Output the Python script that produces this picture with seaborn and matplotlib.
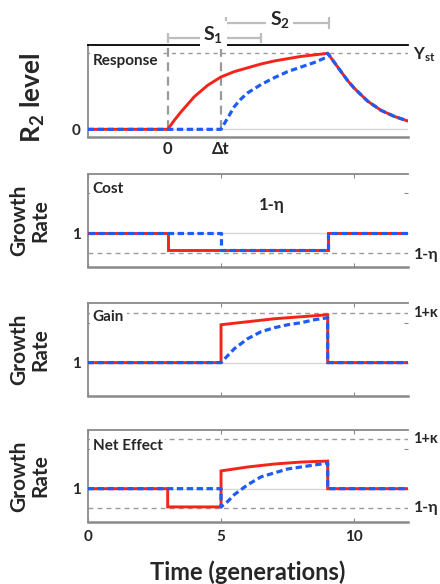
import numpy as np
import pandas as pd
import matplotlib
matplotlib.use("Agg")
import matplotlib.pyplot as plt
import matplotlib.transforms as mtransforms
import seaborn as sns

# ---------------- data ----------------
x_lim = (0, 12)
t_on, t_delay, t_off = 3, 5, 9          # signal on (fast), delayed start (slow), signal off
eta, kappa = 0.2, 0.5                   # cost and gain levels (1-eta, 1+kappa)
y_tick_extra = 1.4

# Response panel (R2 level)
resp_fast_t = [0, 3, 3.25, 3.5, 3.75, 4, 4.5, 5, 5.5, 6, 6.5, 7, 7.5, 8, 8.5, 9,
               9.25, 9.5, 9.75, 10, 10.5, 11, 11.5, 12]
resp_fast_y = [0, 0, 0.12, 0.23, 0.33, 0.43, 0.58, 0.69, 0.76, 0.81, 0.86, 0.90, 0.93, 0.96, 0.98, 1.0,
               0.88, 0.76, 0.64, 0.54, 0.37, 0.25, 0.17, 0.11]
resp_slow_t = [0, 5, 5.25, 5.5, 5.75, 6, 6.5, 7, 7.5, 8, 8.5, 8.9, 9,
               9.25, 9.5, 9.75, 10, 10.5, 11, 11.5, 12]
resp_slow_y = [0, 0, 0.15, 0.30, 0.40, 0.48, 0.59, 0.68, 0.76, 0.82, 0.88, 0.94, 1.0,
               0.88, 0.76, 0.64, 0.54, 0.37, 0.25, 0.17, 0.11]

# Cost panel (growth rate)
cost_fast_t = [0, 3, 3, 9, 9, 12]
cost_fast_y = [1, 1, 0.83, 0.83, 1, 1]
cost_slow_t = [0, 5, 5, 9, 9, 12]
cost_slow_y = [1, 1, 0.83, 0.83, 1, 1]

# Gain panel (growth rate)
gain_fast_t = [0, 5, 5, 5.5, 6, 6.5, 7, 7.5, 8, 8.5, 9, 9, 12]
gain_fast_y = [1, 1, 1.38, 1.395, 1.41, 1.425, 1.44, 1.45, 1.46, 1.47, 1.48, 1, 1]
gain_slow_t = [0, 5, 5.25, 5.5, 5.75, 6, 6.5, 7, 7.5, 8, 8.5, 9, 9, 12]
gain_slow_y = [1, 1, 1.07, 1.14, 1.19, 1.24, 1.31, 1.35, 1.38, 1.40, 1.43, 1.45, 1, 1]

# Net effect panel (growth rate)
net_fast_t = [0, 3, 3, 5, 5, 5.5, 6, 6.5, 7, 7.5, 8, 8.5, 9, 9, 12]
net_fast_y = [1, 1, 0.815, 0.815, 1.18, 1.20, 1.22, 1.235, 1.25, 1.26, 1.27, 1.275, 1.28, 1, 1]
net_slow_t = [0, 5, 5, 5.25, 5.5, 5.75, 6, 6.5, 7, 7.5, 8, 8.5, 9, 9, 12]
net_slow_y = [1, 1, 0.815, 0.87, 0.94, 0.99, 1.04, 1.12, 1.16, 1.20, 1.22, 1.24, 1.26, 1, 1]

# bracket spans above the response panel
s1_span = (3, 6.5)
s2_span = (5.2, 9.05)

panel_titles = ["Response", "Cost", "Gain", "Net Effect"]
x_ticks = [0, 5, 10]

# ---------------- style ----------------
sns.set_style("white")
plt.rcParams["font.family"] = ["Lato", "DejaVu Sans"]
plt.rcParams["mathtext.fontset"] = "custom"
plt.rcParams["mathtext.rm"] = "Lato:bold"
plt.rcParams["mathtext.bf"] = "Lato:bold"
plt.rcParams["mathtext.it"] = "Lato:bold:italic"

RED = "#f4241a"
BLUE = "#1d5cf5"
GRAY = "#8a8a8a"
LGRAY = "#d8d8d8"
DASH = "#9a9a9a"

W, H = 440, 584
fig = plt.figure(figsize=(W / 100, H / 100), dpi=100)


def px_axes(left, top, right, bottom):
    return fig.add_axes([left / W, 1 - bottom / H, (right - left) / W, (bottom - top) / H])


ax1 = px_axes(87.7, 45, 407.7, 137.3)
ax2 = px_axes(87.7, 174, 407.7, 266.7)
ax3 = px_axes(87.7, 303.3, 407.7, 396)
ax4 = px_axes(87.7, 430, 407.7, 521.7)
axes = [ax1, ax2, ax3, ax4]


def draw_pair(ax, tf, yf, ts, ys):
    df_f = pd.DataFrame({"t": tf, "y": yf})
    df_s = pd.DataFrame({"t": ts, "y": ys})
    sns.lineplot(data=df_f, x="t", y="y", ax=ax, sort=False, estimator=None,
                 color=RED, linewidth=2.1, zorder=4, solid_joinstyle="miter")
    sns.lineplot(data=df_s, x="t", y="y", ax=ax, sort=False, estimator=None,
                 color=BLUE, linewidth=2.3, linestyle=(0, (2.0, 1.1)), zorder=5,
                 dash_capstyle="butt")


# ---------- panel 1 : response ----------
ax1.set_xlim(*x_lim)
ax1.set_ylim(-0.105, 1.11)
ax1.axhline(0, color=LGRAY, lw=1, zorder=1)
ax1.axhline(1, color=DASH, lw=1, ls=(0, (3, 3)), zorder=1)
ax1.vlines([t_on, t_delay], 0, 1.11, color=DASH, lw=1.6, linestyles=[(0, (4, 2.5))], zorder=2)
draw_pair(ax1, resp_fast_t, resp_fast_y, resp_slow_t, resp_slow_y)
ax1.set_xticks([t_on, t_delay])
ax1.set_xticklabels(["0", "Δt"], fontsize=12, fontweight="bold")
ax1.set_yticks([0])
ax1.set_yticklabels(["0"], fontsize=11, fontweight="bold")
ax1.tick_params(axis="both", length=0)
ax1.tick_params(axis="x", pad=3)
ax1.tick_params(axis="y", pad=5)

# brackets S1, S2
bkw = dict(color="#bdbdbd", lw=1.6, clip_on=False, zorder=1, solid_capstyle="butt")
for (a, b), yb, cap, lab, lx, ly in [(s1_span, 1.20, 0.065, r"$\mathrm{S_1}$", 4.7, 1.245),
                                     (s2_span, 1.40, 0.085, r"$\mathrm{S_2}$", 7.2, 1.44)]:
    ax1.plot([a, b], [yb, yb], **bkw)
    ax1.plot([a, a], [yb - cap, yb + cap], **bkw)
    ax1.plot([b, b], [yb - cap, yb + cap], **bkw)
    ax1.text(lx, ly, lab, fontsize=14, ha="center", va="center", clip_on=False, zorder=3,
             bbox=dict(facecolor="white", edgecolor="none", pad=2.5))

# ---------- panels 2-4 ----------
for ax in (ax2, ax3, ax4):
    ax.set_xlim(*x_lim)
    ax.set_ylim(0.665, 1.595)
    ax.axhline(1, color=LGRAY, lw=1, zorder=1)
    ax.set_yticks([1, y_tick_extra])
    ax.set_yticklabels(["1", ""], fontsize=11, fontweight="bold")
    ax.set_xticks(x_ticks)
    ax.tick_params(axis="y", direction="in", length=3, left=True, right=True, color=GRAY, pad=5)
    ax.tick_params(axis="x", direction="in", length=3, top=True, bottom=True, color=GRAY)

ax2.axhline(1 - eta, color=DASH, lw=1, ls=(0, (3.5, 3)), zorder=1)
draw_pair(ax2, cost_fast_t, cost_fast_y, cost_slow_t, cost_slow_y)
ax2.text(6.9, 1.28, "1-η", fontsize=12, fontweight="bold", ha="center", va="center")

ax3.axhline(1 + kappa, color=DASH, lw=1, ls=(0, (3.5, 3)), zorder=1)
draw_pair(ax3, gain_fast_t, gain_fast_y, gain_slow_t, gain_slow_y)

ax4.axhline(1 + kappa, color=DASH, lw=1, ls=(0, (3.5, 3)), zorder=1)
ax4.axhline(1 - eta, color=DASH, lw=1, ls=(0, (3.5, 3)), zorder=1)
draw_pair(ax4, net_fast_t, net_fast_y, net_slow_t, net_slow_y)

for ax in (ax2, ax3):
    ax.set_xticklabels([])
ax4.set_xticklabels([str(v) for v in x_ticks], fontsize=11, fontweight="bold")
ax4.tick_params(axis="x", pad=6)

# spines
for ax in axes:
    for side in ["left", "top", "bottom"]:
        ax.spines[side].set_visible(True)
        ax.spines[side].set_color(GRAY)
        ax.spines[side].set_linewidth(1.3)
    ax.spines["bottom"].set_linewidth(1.8)
    ax.spines["right"].set_visible(False)
ax1.spines["top"].set_color("black")

# panel titles
title_pos = [0.827, 0.838, 0.852, 0.825]
for ax, title, yy in zip(axes, panel_titles, title_pos):
    ax.text(0.016, yy, title, transform=ax.transAxes, fontsize=11, fontweight="bold",
            ha="left", va="center", zorder=10,
            bbox=dict(facecolor="white", edgecolor="none", pad=2))

# right-hand level labels
def right_label(ax, y, s, dy=0.0, size=11.5):
    tr = mtransforms.blended_transform_factory(ax.transAxes, ax.transData)
    ax.text(1.018, y + dy, s, transform=tr, fontsize=size, fontweight="bold",
            ha="left", va="center", clip_on=False)

right_label(ax1, 1.0, r"$\mathrm{Y_{st}}$", dy=-0.015, size=12)
right_label(ax2, 1 - eta, "1-η", dy=-0.015)
right_label(ax3, 1 + kappa, "1+κ", size=10.5)
right_label(ax4, 1 + kappa, "1+κ", size=10.5)
right_label(ax4, 1 - eta, "1-η")

# axis labels
ax1.set_ylabel(r"$\mathrm{R_2}$ level", fontsize=19, fontweight="bold")
ax1.yaxis.set_label_coords(-0.172, 0.43)
ax1.yaxis.label.set_va("center")
for ax in (ax2, ax3, ax4):
    ax.set_ylabel("Growth\nRate", fontsize=15, fontweight="bold", linespacing=1.05)
    ax.yaxis.set_label_coords(-0.18, 0.5)
    ax.yaxis.label.set_va("center")
for ax in (ax1, ax2, ax3):
    ax.set_xlabel("")
ax4.set_xlabel("Time (generations)", fontsize=17, fontweight="bold")
ax4.xaxis.set_label_coords(0.5, -0.42)

fig.savefig("out.png", dpi=100)
